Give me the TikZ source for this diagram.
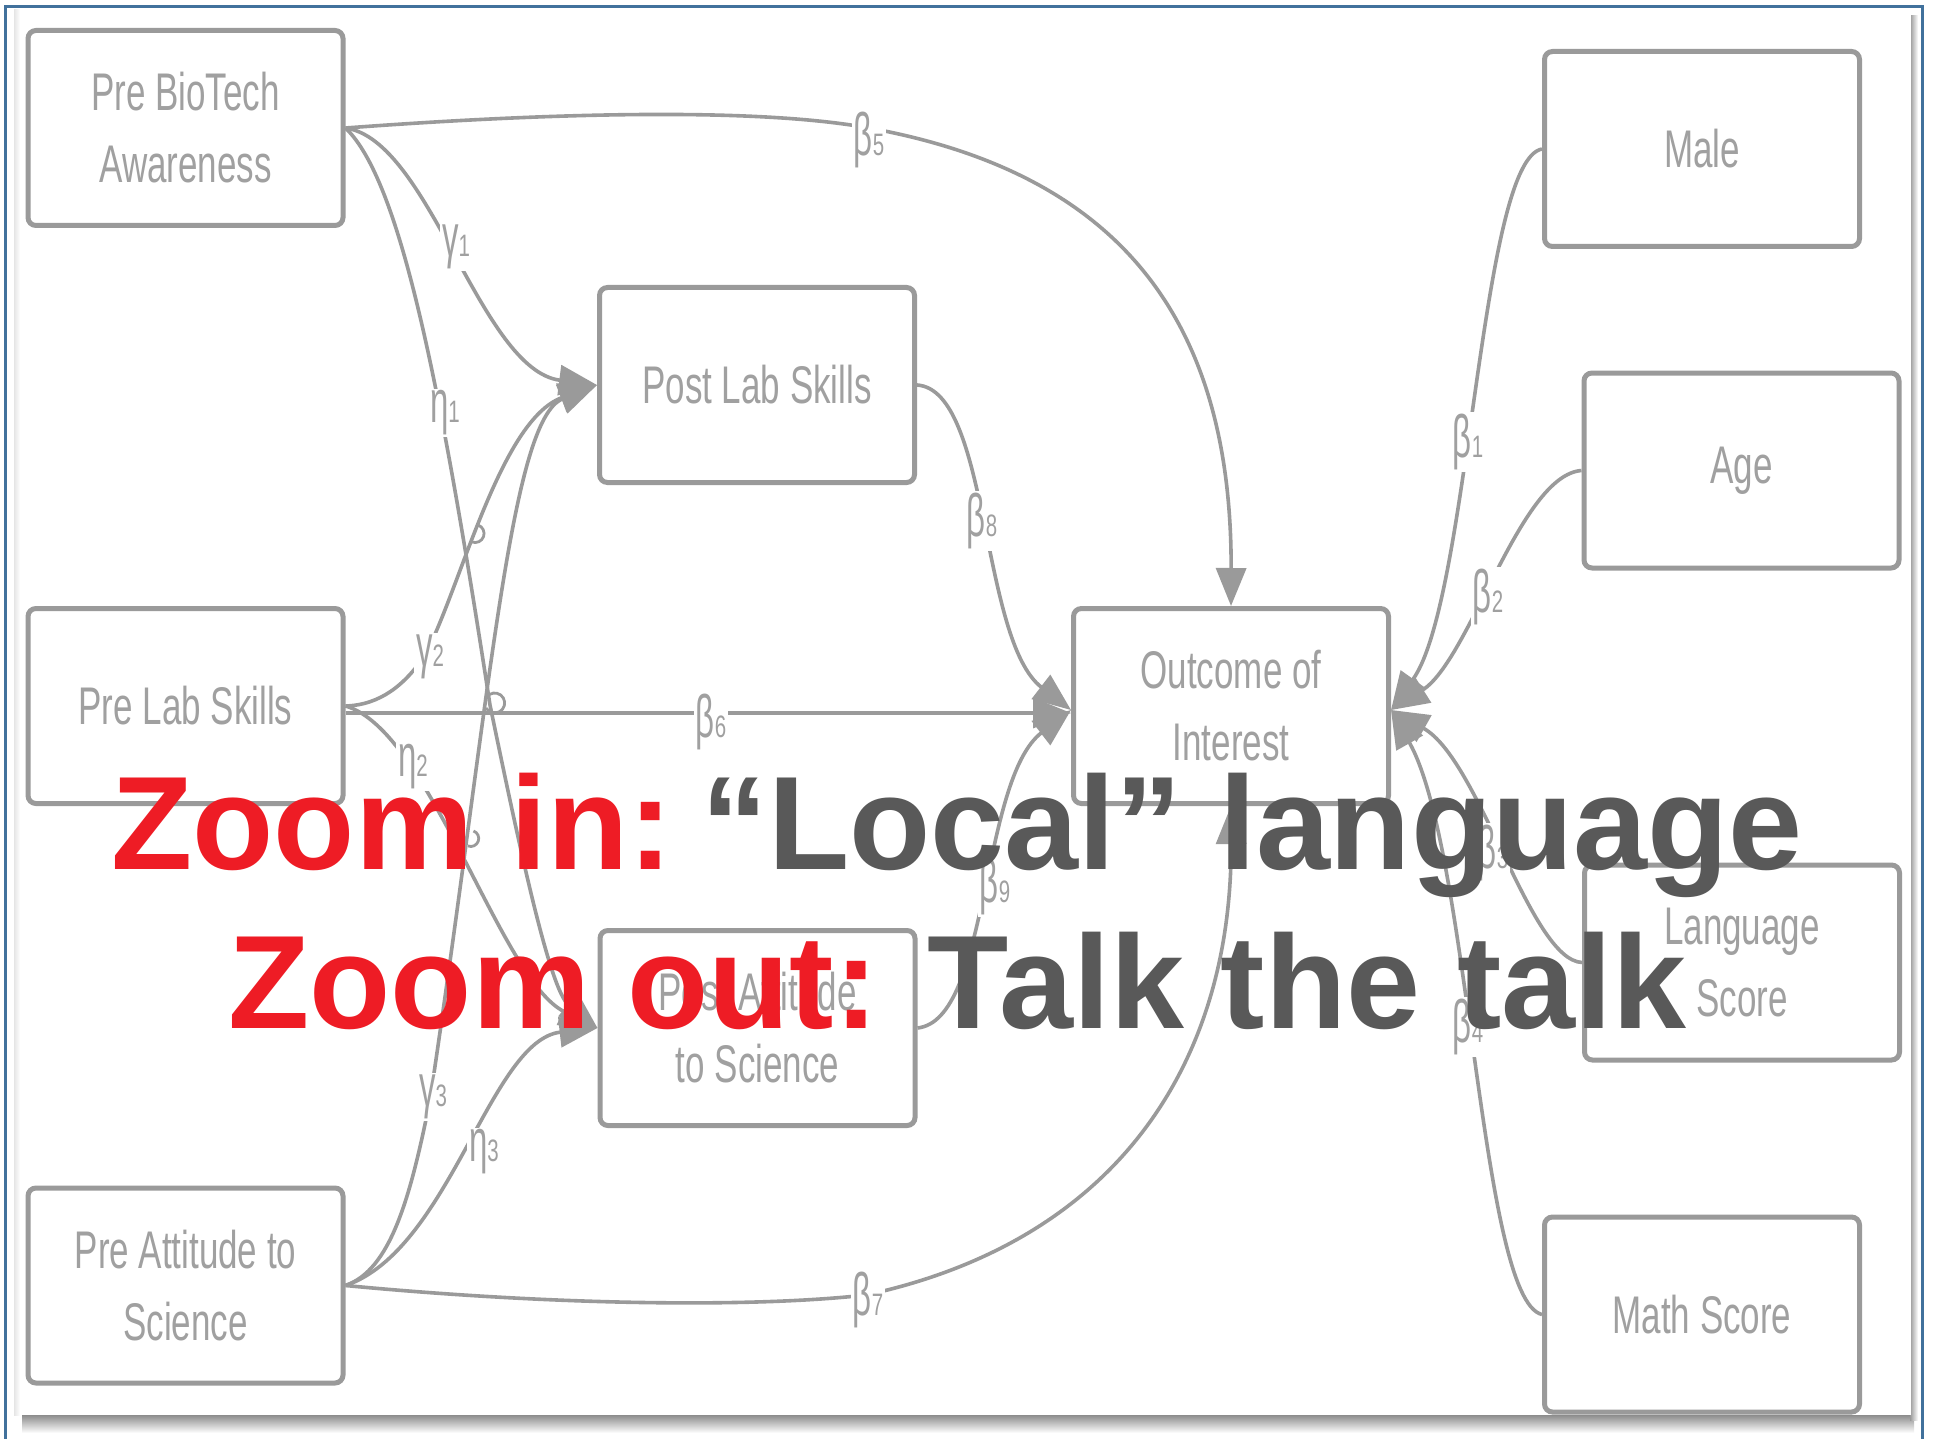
\documentclass[tikz,border=0pt]{standalone}
\usepackage{fontspec}
\setmainfont{Liberation Sans}
\newfontfamily\boxfont{Liberation Sans}[FakeStretch=0.66]
\newfontfamily\lblfont{Liberation Sans}[FakeStretch=0.55]
\usetikzlibrary{arrows.meta}
\definecolor{dg}{HTML}{9A9A9A}
\definecolor{dtext}{HTML}{A0A0A0}
\definecolor{zred}{HTML}{EE1C25}
\definecolor{zgray}{HTML}{595959}
\definecolor{frameblue}{HTML}{41719C}
\newcommand{\gl}[2]{{\fontsize{30}{30}\selectfont #1}{\boxfont\fontsize{15.5}{16}\selectfont #2}}
\begin{document}
\begin{tikzpicture}[x=0.5pt,y=-0.5pt,
  box/.style={draw=dg, fill=white, line width=2.5pt, rounded corners=4pt,
    minimum width=157.5pt, minimum height=97.5pt, inner sep=0pt, align=center,
    text=dtext, font=\boxfont\fontsize{26.5}{36}\selectfont},
  edge/.style={draw=dg, line width=1.8pt},
  arr/.style={edge, -{Triangle[length=19pt,width=15pt]}},
  hop/.style={draw=dg, line width=1.4pt},
  lbl/.style={fill=white, inner sep=1pt, text=dtext, font=\lblfont},
  big/.style={anchor=base west, inner sep=0pt, font=\bfseries\fontsize{66.5}{70}\selectfont}
]
\useasboundingbox (0,0) rectangle (1933,1439);
% panel and shadow
\shade[top color=black!50, bottom color=white] (22,1413) rectangle (1914,1433);
\shade[left color=black!40, right color=white] (1910,16) rectangle (1918,1420);
\fill[white] (16,10) rectangle (1911,1415);
\shade[left color=black!10, right color=white] (14,10) rectangle (20,1415);
\draw[frameblue, line width=1.5pt] (5,1439) -- (5,7) -- (1922,7) -- (1922,1439);

% boxes
\node[box] (pba) at (185.5,128) {Pre BioTech\\Awareness};
\node[box] (pls) at (185.5,706) {Pre Lab Skills};
\node[box] (pas) at (185.5,1285.5) {Pre Attitude to\\Science};
\node[box] (pol) at (757,385) {Post Lab Skills};
\node[box] (poa) at (757.5,1028) {Post Attitude\\to Science};
\node[box] (out) at (1231,706) {Outcome of\\Interest};
\node[box] (male) at (1702,149) {Male};
\node[box] (age) at (1741.5,470.5) {Age};
\node[box] (lang) at (1742,962.5) {Language\\Score};
\node[box] (math) at (1702,1314.5) {Math Score};

% edges
\draw[arr] (pba.east) .. controls (560,112) and (760,108) .. (869,128) .. controls (1100,170) and (1232,300) .. (out.north);
\draw[arr] (pba.east) .. controls (430,140) and (480,370) .. (pol.west);
\draw[arr] (pba.east) .. controls (400,180) and (440,380) .. (490,705) .. controls (520,850) and (550,990) .. (poa.west);
\draw[arr] (pls.east) .. controls (380,705) and (405,685) .. (425,655) .. controls (460,590) and (500,420) .. (pol.west);
\draw[arr] ([yshift=-3.5pt]pls.east) -- ([yshift=-3.5pt]out.west);
\draw[arr] (pls.east) .. controls (430,730) and (500,980) .. (poa.west);
\draw[arr] (pas.east) .. controls (390,1270) and (410,1200) .. (430,1100) .. controls (490,700) and (510,420) .. (pol.west);
\draw[arr] (pas.east) .. controls (450,1250) and (490,1040) .. (poa.west);
\draw[arr] (pas.east) .. controls (550,1305) and (750,1308) .. (866,1295) .. controls (1120,1240) and (1232,1060) .. (out.south);
\draw[arr] (pol.east) .. controls (990,390) and (980,640) .. ([yshift=-2pt]out.west);
\draw[arr] (poa.east) .. controls (990,1020) and (980,780) .. ([yshift=-2pt]out.west);
\draw[arr] (male.west) .. controls (1480,160) and (1470,600) .. ([yshift=-2pt]out.east);
\draw[arr] (age.west) .. controls (1520,475) and (1470,660) .. ([yshift=-2pt]out.east);
\draw[arr] (lang.west) .. controls (1530,960) and (1480,760) .. ([yshift=-2pt]out.east);
\draw[arr] (math.west) .. controls (1480,1300) and (1470,850) .. ([yshift=-2pt]out.east);

% line hops at crossings
\draw[hop] (472,542) arc[start angle=110, end angle=-70, radius=9];
\draw[hop] (486,708) arc[start angle=150, end angle=-150, radius=10];
\draw[hop] (468,846) arc[start angle=110, end angle=-70, radius=8];

% labels
\node[lbl] (b5) at (869,140) {\gl{β}{5}};
\node[lbl] (g1) at (456,247) {\gl{γ}{1}};
\node[lbl] (h1) at (445,413) {\gl{η}{1}};
\node[lbl] (g2) at (430,657) {\gl{γ}{2}};
\node[lbl] (h2) at (413,767) {\gl{η}{2}};
\node[lbl] (b6) at (711,722) {\gl{β}{6}};
\node[lbl] (g3) at (433,1097) {\gl{γ}{3}};
\node[lbl] (h3) at (484,1152) {\gl{η}{3}};
\node[lbl] (b7) at (868,1300) {\gl{β}{7}};
\node[lbl] (b8) at (982,521) {\gl{β}{8}};
\node[lbl] (b9) at (995,887) {\gl{β}{9}};
\node[lbl] (b1) at (1468,442) {\gl{β}{1}};
\node[lbl] (b2) at (1488,597) {\gl{β}{2}};
\node[lbl] (b3) at (1493,853) {\gl{β}{3}};
\node[lbl] (b4) at (1468,1027) {\gl{β}{4}};

% overlay text
\node[big, text=zred] (l1) at (111,869) {Zoom in:\hspace{14.5pt}\textcolor{zgray}{“Local” language}};
\node[big, text=zred] (l2) at (228,1028) {Zoom out: \textcolor{zgray}{Talk the talk}};
\end{tikzpicture}
\end{document}
